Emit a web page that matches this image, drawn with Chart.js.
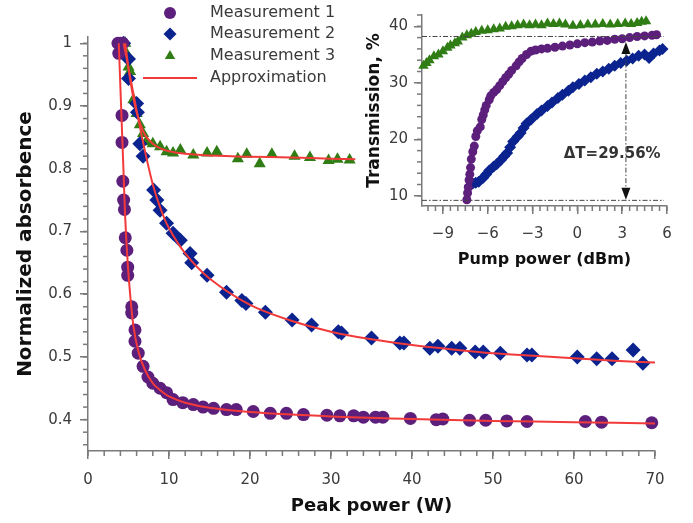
<!DOCTYPE html>
<html>
<head>
<meta charset="utf-8">
<script src="https://cdn.jsdelivr.net/npm/chart.js@4.4.1/dist/chart.umd.min.js"></script>
<style>
  html, body { margin: 0; padding: 0; background: #fff; }
  #wrap { position: relative; width: 693px; height: 523px; }
  #main { position: absolute; left: 0; top: 0; }
  #inset { position: absolute; left: 358px; top: 0; }
</style>
</head>
<body>
<div id="wrap">
  <canvas id="main" width="693" height="523"></canvas>
  <canvas id="inset" width="335" height="275"></canvas>
</div>
<script>
// main plot: normalized absorbence vs peak power (W)
var m1X = [3.7, 4.0, 4.3, 3.8, 4.2, 4.2, 4.3, 4.4, 4.5, 4.6, 4.8, 4.9, 4.9, 5.4, 5.4, 5.8, 5.8, 6.2, 6.8, 7.4, 8.0, 8.9, 9.7, 10.5, 11.7, 13.0, 14.2, 15.5, 17.1, 18.3, 20.4, 22.5, 24.5, 26.6, 29.5, 31.1, 32.8, 34.0, 35.5, 36.4, 39.8, 43.0, 43.8, 47.1, 49.1, 51.7, 54.2, 61.4, 63.4, 69.6];
var m1Y = [1.0, 1.0, 1.0, 0.984, 0.885, 0.842, 0.78, 0.75, 0.735, 0.69, 0.67, 0.643, 0.63, 0.58, 0.57, 0.543, 0.525, 0.506, 0.485, 0.468, 0.458, 0.45, 0.443, 0.432, 0.427, 0.424, 0.42, 0.418, 0.416, 0.416, 0.413, 0.41, 0.41, 0.408, 0.407, 0.406, 0.406, 0.404, 0.404, 0.404, 0.402, 0.40, 0.401, 0.399, 0.399, 0.398, 0.397, 0.397, 0.396, 0.395];

var m2X = [4.4, 5.0, 5.0, 6.0, 6.1, 6.4, 6.8, 8.1, 8.5, 8.9, 9.7, 10.5, 11.4, 12.6, 12.8, 14.7, 17.1, 19.0, 19.5, 21.9, 25.2, 27.6, 30.9, 31.3, 35.0, 38.5, 39.0, 42.2, 43.2, 44.9, 45.9, 47.8, 48.8, 50.9, 54.2, 54.8, 60.4, 62.8, 64.7, 67.3, 68.5];
var m2Y = [1.0, 0.975, 0.944, 0.904, 0.89, 0.84, 0.82, 0.766, 0.75, 0.734, 0.713, 0.697, 0.686, 0.665, 0.65, 0.63, 0.603, 0.59, 0.585, 0.571, 0.559, 0.551, 0.54, 0.538, 0.53, 0.522, 0.522, 0.514, 0.517, 0.514, 0.514, 0.508, 0.508, 0.506, 0.503, 0.503, 0.50, 0.497, 0.497, 0.511, 0.49];

var m3X = [4.6, 4.7, 5.0, 5.2, 5.6, 6.0, 6.4, 6.8, 7.2, 8.0, 8.9, 9.7, 10.5, 11.4, 13.0, 14.7, 15.9, 18.5, 19.6, 21.2, 22.7, 25.5, 27.4, 29.7, 30.8, 32.3];
var m3Y = [1.0, 0.985, 0.962, 0.955, 0.91, 0.888, 0.87, 0.856, 0.843, 0.84, 0.835, 0.827, 0.825, 0.83, 0.822, 0.825, 0.827, 0.816, 0.823, 0.808, 0.823, 0.82, 0.818, 0.813, 0.815, 0.814];

// approximation curves
var fit1X = [3.8, 4.0, 4.2, 4.4, 4.6, 4.9, 5.2, 5.6, 6.2, 7.0, 8.0, 9.0, 10.0, 12.0, 15.0, 20.0, 30.0, 40.0, 50.0, 60.0, 70.0];
var fit1Y = [1.0, 0.93, 0.86, 0.79, 0.72, 0.65, 0.60, 0.55, 0.51, 0.48, 0.458, 0.446, 0.437, 0.427, 0.419, 0.412, 0.405, 0.401, 0.398, 0.396, 0.394];
var fit2X = [4.4, 5.0, 5.6, 6.2, 7.0, 8.0, 9.0, 10.0, 12.0, 15.0, 20.0, 25.0, 30.0, 35.0, 40.0, 45.0, 50.0, 55.0, 60.0, 65.0, 70.0];
var fit2Y = [1.0, 0.96, 0.92, 0.88, 0.83, 0.775, 0.735, 0.705, 0.665, 0.625, 0.583, 0.558, 0.54, 0.528, 0.519, 0.512, 0.506, 0.502, 0.498, 0.494, 0.491];
var fit3X = [4.6, 5.0, 5.5, 6.0, 7.0, 8.0, 9.0, 10.0, 12.0, 15.0, 20.0, 25.0, 30.0, 33.0];
var fit3Y = [1.0, 0.96, 0.92, 0.89, 0.855, 0.84, 0.832, 0.828, 0.824, 0.821, 0.819, 0.818, 0.816, 0.815];

var legendLabels = ['Measurement 1', 'Measurement 2', 'Measurement 3', 'Approximation'];

// inset: transmission (%) vs pump power (dBm)
var t1X = [-7.4, -7.35, -7.3, -7.25, -7.2, -7.15, -7.1, -7.0, -6.9, -6.8, -6.7, -6.5, -6.4, -6.3, -6.2, -6.1, -5.9, -5.8, -5.6, -5.4, -5.2, -5.0, -4.8, -4.6, -4.4, -4.1, -3.9, -3.7, -3.4, -3.1, -2.8, -2.4, -2.0, -1.5, -1.0, -0.5, 0.0, 0.5, 1.0, 1.5, 2.0, 2.5, 3.0, 3.5, 4.0, 4.5, 5.0, 5.3];
var t1Y = [9.3, 10.5, 11.5, 12.8, 13.8, 15.0, 16.5, 17.8, 18.8, 20.5, 21.5, 22.2, 23.5, 24.3, 25.2, 26.0, 27.0, 27.7, 28.3, 28.8, 29.5, 30.2, 30.9, 31.5, 32.2, 33.0, 33.7, 34.3, 35.0, 35.6, 35.8, 36.0, 36.1, 36.3, 36.5, 36.7, 36.9, 37.1, 37.2, 37.4, 37.5, 37.7, 37.8, 38.0, 38.2, 38.3, 38.4, 38.5];
var t2X = [-7.2, -7.0, -6.8, -6.6, -6.3, -6.1, -5.9, -5.6, -5.4, -5.1, -4.9, -4.7, -4.5, -4.3, -4.0, -3.8, -3.6, -3.4, -3.1, -2.7, -2.4, -2.0, -1.7, -1.3, -1.0, -0.6, -0.3, 0.1, 0.5, 0.9, 1.3, 1.7, 2.1, 2.5, 2.9, 3.3, 3.7, 4.1, 4.5, 4.8, 5.1, 5.5, 5.7];
var t2Y = [11.8, 12.2, 12.3, 12.5, 13.2, 13.8, 14.5, 15.2, 15.6, 16.4, 17.0, 17.6, 18.6, 19.6, 20.5, 21.1, 22.0, 22.8, 23.5, 24.5, 25.1, 25.9, 26.5, 27.3, 27.9, 28.6, 29.2, 29.8, 30.4, 31.0, 31.6, 32.0, 32.5, 33.0, 33.5, 33.9, 34.3, 34.8, 35.0, 34.4, 35.2, 35.7, 36.0];
var t3X = [-10.3, -10.1, -9.9, -9.6, -9.3, -9.0, -8.7, -8.5, -8.2, -8.0, -7.7, -7.4, -7.1, -6.8, -6.4, -6.0, -5.6, -5.2, -4.8, -4.4, -4.0, -3.6, -3.2, -2.8, -2.4, -2.0, -1.6, -1.2, -0.8, -0.3, 0.2, 0.7, 1.2, 1.7, 2.2, 2.7, 3.2, 3.6, 4.0, 4.3, 4.6];
var t3Y = [33.0, 33.5, 34.0, 34.7, 35.0, 35.6, 36.2, 36.6, 37.0, 37.3, 38.0, 38.4, 38.7, 39.0, 39.2, 39.3, 39.5, 39.6, 39.9, 40.0, 40.2, 40.3, 40.2, 40.3, 40.2, 40.5, 40.4, 40.5, 40.3, 40.1, 40.2, 40.3, 40.3, 40.4, 40.3, 40.4, 40.5, 40.4, 40.6, 40.8, 40.9];

// delta T annotation
var levelTop = 38.2;
var levelBottom = 9.2;
var levelEndX = 5.8;
var deltaX = 3.25;
var arrowTipTop = 37.2;
var arrowTipBottom = 9.3;
var deltaLabel = '\u0394T=29.56%';
var deltaLabelAt = [2.33, 17.3];

var PURPLE = '#5c1f7c', BLUE = '#0b238f', GREEN = '#2f7d14', RED = '#f23a3a';
var AXIS = '#7a7a7a', TEXT = '#3a3a3a';
var FONT = "'DejaVu Sans', sans-serif";

function pts(xs, ys) {
  return xs.map(function (x, i) { return { x: x, y: ys[i] }; });
}

var minorTicks = {
  id: 'minorTicks',
  afterDraw: function (chart, args, opts) {
    var ctx = chart.ctx;
    ctx.save();
    ctx.strokeStyle = AXIS;
    ctx.lineWidth = 1.5;
    Object.keys(opts.steps).forEach(function (id) {
      var s = chart.scales[id], step = opts.steps[id];
      var i0 = Math.ceil(s.min / step - 1e-6), i1 = Math.floor(s.max / step + 1e-6);
      for (var i = i0; i <= i1; i++) {
        var p = s.getPixelForValue(i * step);
        ctx.beginPath();
        if (s.isHorizontal()) { ctx.moveTo(p, s.top); ctx.lineTo(p, s.top + opts.length); }
        else { ctx.moveTo(s.right, p); ctx.lineTo(s.right - opts.length, p); }
        ctx.stroke();
      }
    });
    ctx.restore();
  }
};

// legend drawn inside the plot, top middle
var mainLegend = {
  id: 'mainLegend',
  afterDraw: function (chart) {
    var ctx = chart.ctx;
    var styles = [
      { pointStyle: 'circle', radius: 6, color: PURPLE },
      { pointStyle: 'rectRot', radius: 6.5, color: BLUE },
      { pointStyle: 'triangle', radius: 6, color: GREEN },
      null
    ];
    var rows = [13, 34, 56, 78];
    ctx.save();
    ctx.font = '16px ' + FONT;
    ctx.textBaseline = 'middle';
    legendLabels.forEach(function (label, i) {
      var y = rows[i];
      if (styles[i]) {
        ctx.fillStyle = styles[i].color;
        ctx.strokeStyle = styles[i].color;
        Chart.helpers.drawPoint(ctx, { pointStyle: styles[i].pointStyle, radius: styles[i].radius, rotation: 0, borderWidth: 0 }, 170, y);
      } else {
        ctx.strokeStyle = RED;
        ctx.lineWidth = 2;
        ctx.beginPath(); ctx.moveTo(143, y); ctx.lineTo(197, y); ctx.stroke();
      }
      ctx.fillStyle = TEXT;
      ctx.fillText(label, 210, y);
    });
    ctx.restore();
  }
};

function scatterSet(data, color, style, r) {
  return { data: data, showLine: false, pointStyle: style, pointRadius: r, pointBorderWidth: 0,
           backgroundColor: color, borderColor: color, clip: false, order: 2 };
}
function fitSet(data) {
  return { data: data, showLine: true, pointRadius: 0, borderColor: RED, borderWidth: 2,
           backgroundColor: RED, tension: 0.3, clip: false, order: 1 };
}

new Chart(document.getElementById('main'), {
  type: 'scatter',
  data: {
    datasets: [
      fitSet(pts(fit1X, fit1Y)),
      fitSet(pts(fit2X, fit2Y)),
      fitSet(pts(fit3X, fit3Y)),
      scatterSet(pts(m1X, m1Y), PURPLE, 'circle', 6.5),
      scatterSet(pts(m2X, m2Y), BLUE, 'rectRot', 7.5),
      scatterSet(pts(m3X, m3Y), GREEN, 'triangle', 7)
    ]
  },
  options: {
    responsive: false,
    animation: false,
    layout: { padding: { left: 0, top: 37, right: 38, bottom: 0 } },
    plugins: {
      legend: { display: false },
      tooltip: { enabled: false },
      minorTicks: { steps: { x: 2, y: 0.02 }, length: 5 }
    },
    scales: {
      x: {
        type: 'linear', min: 0, max: 70,
        afterFit: function (s) { s.height = 72; },
        border: { color: AXIS, width: 1.5 },
        grid: { drawOnChartArea: false, drawTicks: true, tickLength: 8, color: AXIS, lineWidth: 1.5 },
        ticks: { stepSize: 10, color: TEXT, font: { family: FONT, size: 15 }, padding: 12, maxRotation: 0 },
        title: { display: true, text: 'Peak power (W)', color: '#111', font: { family: FONT, size: 18, weight: 'bold' }, padding: { top: 0, bottom: 6 } }
      },
      y: {
        type: 'linear', min: 0.35, max: 1.01,
        afterFit: function (s) { s.width = 88; },
        border: { color: AXIS, width: 1.5 },
        grid: { drawOnChartArea: false, drawTicks: true, tickLength: 8, color: AXIS, lineWidth: 1.5 },
        ticks: { stepSize: 0.1, includeBounds: false, color: TEXT, font: { family: FONT, size: 15 }, padding: 8,
                 callback: function (v) { return String(Number(v.toFixed(2))); } },
        title: { display: true, text: 'Normalized absorbence', color: '#111', font: { family: FONT, size: 20, weight: 'bold' }, padding: { top: 14, bottom: 0 } }
      }
    }
  },
  plugins: [minorTicks, mainLegend]
});

var insetBackground = {
  id: 'insetBackground',
  beforeDraw: function (chart) {
    var ctx = chart.ctx;
    ctx.save();
    ctx.fillStyle = '#fff';
    ctx.fillRect(0, 0, chart.width, chart.height);
    ctx.restore();
  }
};

function arrowHead(ctx, x, y, dir) {
  ctx.beginPath();
  ctx.moveTo(x, y);
  ctx.lineTo(x - 4.5, y + dir * 12);
  ctx.lineTo(x + 4.5, y + dir * 12);
  ctx.closePath();
  ctx.fill();
}

var deltaT = {
  id: 'deltaT',
  afterDatasetsDraw: function (chart) {
    var ctx = chart.ctx, sx = chart.scales.x, sy = chart.scales.y;
    var x0 = sx.getPixelForValue(sx.min), x1 = sx.getPixelForValue(levelEndX);
    var xd = sx.getPixelForValue(deltaX);
    var yt = sy.getPixelForValue(levelTop), yb = sy.getPixelForValue(levelBottom);
    var at = sy.getPixelForValue(arrowTipTop), ab = sy.getPixelForValue(arrowTipBottom);
    ctx.save();
    ctx.strokeStyle = '#444';
    ctx.lineWidth = 1;
    ctx.setLineDash([5, 2, 1.5, 2]);
    ctx.beginPath();
    ctx.moveTo(x0, yt); ctx.lineTo(x1, yt);
    ctx.moveTo(x0, yb); ctx.lineTo(x1, yb);
    ctx.moveTo(xd, at + 10); ctx.lineTo(xd, ab - 10);
    ctx.stroke();
    ctx.setLineDash([]);
    ctx.fillStyle = '#111';
    arrowHead(ctx, xd, at, 1);
    arrowHead(ctx, xd, ab, -1);
    ctx.font = 'bold 15px ' + FONT;
    ctx.textAlign = 'center';
    ctx.textBaseline = 'middle';
    ctx.fillStyle = '#333';
    ctx.fillText(deltaLabel, sx.getPixelForValue(deltaLabelAt[0]), sy.getPixelForValue(deltaLabelAt[1]));
    ctx.restore();
  }
};

function insetSet(data, color, style, r) {
  return { data: data, showLine: false, pointStyle: style, pointRadius: r, pointBorderWidth: 0,
           backgroundColor: color, borderColor: color, clip: false };
}

new Chart(document.getElementById('inset'), {
  type: 'scatter',
  data: {
    datasets: [
      insetSet(pts(t1X, t1Y), PURPLE, 'circle', 4.5),
      insetSet(pts(t2X, t2Y), BLUE, 'rectRot', 6),
      insetSet(pts(t3X, t3Y), GREEN, 'triangle', 6)
    ]
  },
  options: {
    responsive: false,
    animation: false,
    layout: { padding: { left: 0, top: 4, right: 26, bottom: 0 } },
    plugins: {
      legend: { display: false },
      tooltip: { enabled: false },
      minorTicks: { steps: { x: 0.5, y: 2 }, length: 5 }
    },
    scales: {
      x: {
        type: 'linear', min: -10.4, max: 6,
        afterFit: function (s) { s.height = 69; },
        border: { color: AXIS, width: 1.5 },
        grid: { drawOnChartArea: false, drawTicks: true, tickLength: 8, color: AXIS, lineWidth: 1.5 },
        ticks: { stepSize: 3, includeBounds: false, color: TEXT, font: { family: FONT, size: 15 }, padding: 11, maxRotation: 0,
                 callback: function (v) { return v < 0 ? '\u2212' + Math.abs(v) : String(v); } },
        title: { display: true, text: 'Pump power (dBm)', color: '#111', font: { family: FONT, size: 16, weight: 'bold' }, padding: { top: 0, bottom: 6 } }
      },
      y: {
        type: 'linear', min: 8.2, max: 42,
        afterFit: function (s) { s.width = 64; },
        border: { color: AXIS, width: 1.5 },
        grid: { drawOnChartArea: false, drawTicks: true, tickLength: 8, color: AXIS, lineWidth: 1.5 },
        ticks: { stepSize: 10, includeBounds: false, color: TEXT, font: { family: FONT, size: 15 }, padding: 6 },
        title: { display: true, text: 'Transmission, %', color: '#111', font: { family: FONT, size: 17, weight: 'bold' }, padding: { top: 6, bottom: 0 } }
      }
    }
  },
  plugins: [insetBackground, minorTicks, deltaT]
});
</script>
</body>
</html>
